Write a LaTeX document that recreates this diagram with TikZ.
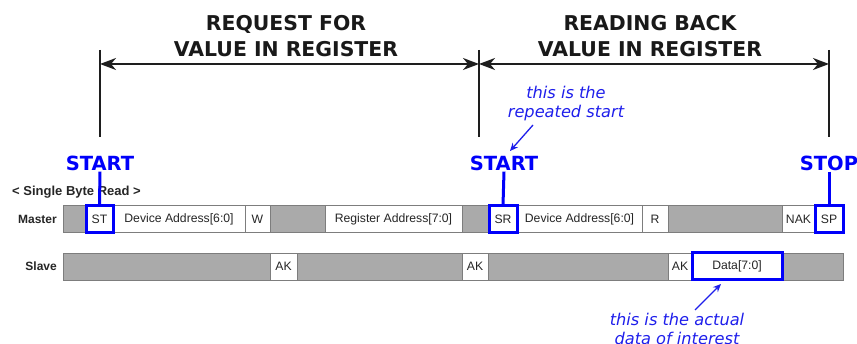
\documentclass[tikz,border=0pt]{standalone}
\usepackage{fontspec}
\setmainfont{DejaVu Sans}
\newfontfamily\arialf{Liberation Sans}
\usetikzlibrary{arrows.meta}
\definecolor{segfill}{RGB}{170,170,170}
\definecolor{segline}{RGB}{125,125,125}
\definecolor{annc}{RGB}{30,30,235}
\definecolor{hl}{RGB}{0,0,250}
\definecolor{dimc}{RGB}{30,30,30}
\begin{document}
\begin{tikzpicture}[x=1pt,y=-1pt,
  seg/.style={draw=segline, line width=0.8pt, minimum height=27pt, inner sep=0pt, outer sep=0pt,
    font=\arialf\fontsize{12.2}{14}\selectfont, anchor=west, text=black!85},
  gseg/.style={seg, fill=segfill},
  wseg/.style={seg, fill=white},
  hlbox/.style={draw=hl, line width=3pt},
  hlline/.style={draw=hl, line width=3pt},
  marker/.style={text=hl, font=\bfseries\fontsize{19.5}{22}\selectfont, inner sep=1pt},
  titletext/.style={align=center, text=black!90, font=\bfseries\fontsize{20.4}{26}\selectfont},
  anntext/.style={align=center, text=annc, font=\itshape\fontsize{16.2}{19}\selectfont, inner sep=1pt},
  annarrow/.style={draw=annc, line width=1.3pt, -{Stealth[length=8pt,width=7pt]}},
  dimline/.style={draw=dimc, line width=1.8pt},
  dimarrow/.style={draw=dimc, line width=1.8pt, {Stealth[length=16pt,width=12pt,inset=5pt]}-{Stealth[length=16pt,width=12pt,inset=5pt]}},
  rowlabel/.style={font=\arialf\bfseries\fontsize{12}{14}\selectfont, anchor=east, inner sep=0pt, text=black!85}
]
\useasboundingbox (0,0) rectangle (857,344);

% titles
\node[titletext] (title1) at (286,36) {REQUEST FOR\\VALUE IN REGISTER};
\node[titletext] (title2) at (650,36) {READING BACK\\VALUE IN REGISTER};

% dimension lines
\coordinate (v1t) at (100,50); \coordinate (v1b) at (100,137);
\coordinate (v2t) at (479,50); \coordinate (v2b) at (479,137);
\coordinate (v3t) at (829,50); \coordinate (v3b) at (829,137);
\draw[dimline] (v1t) -- (v1b);
\draw[dimline] (v2t) -- (v2b);
\draw[dimline] (v3t) -- (v3b);
\coordinate (a1) at (100,64); \coordinate (a2) at (479,64); \coordinate (a3) at (829,64);
\draw[dimarrow] (a1) -- (a2);
\draw[dimarrow] (a2) -- (a3);

% annotation 1
\node[anntext] (ann1) at (566,104) {this is the\\repeated start};

% markers
\node[marker] (st1) at (100,163) {START};
\node[marker] (st2) at (504,163) {START};
\node[marker] (sp1) at (829,163) {STOP};

\node[font=\arialf\bfseries\fontsize{13}{15}\selectfont, anchor=west, inner sep=0pt, text=black!85] (sbr) at (12,192) {< Single Byte Read >};

% master row
\node[rowlabel] (mlab) at (57,219) {Master};
\node[gseg, minimum width=23pt] (m0) at (63,219) {};
\node[wseg, minimum width=27pt] (ST) at (86,219) {ST};
\node[wseg, minimum width=132pt] (mda1) at (113,219) {Device Address[6:0]};
\node[wseg, minimum width=25pt] (mW) at (245,219) {W};
\node[gseg, minimum width=55pt] (m1) at (270,219) {};
\node[wseg, minimum width=137pt] (mra) at (325,219) {Register Address[7:0]};
\node[gseg, minimum width=27pt] (m2) at (462,219) {};
\node[wseg, minimum width=28pt] (SR) at (489,219) {SR};
\node[wseg, minimum width=125pt] (mda2) at (517,219) {Device Address[6:0]};
\node[wseg, minimum width=26pt] (mR) at (642,219) {R};
\node[gseg, minimum width=114pt] (m3) at (668,219) {};
\node[wseg, minimum width=33pt] (NAK) at (782,219) {NAK};
\node[wseg, minimum width=28pt] (SP) at (815,219) {SP};

% slave row
\node[rowlabel] (slab) at (57,266.5) {Slave};
\node[gseg, minimum width=207pt] (s0) at (63,266.5) {};
\node[wseg, minimum width=27pt] (AK1) at (270,266.5) {AK};
\node[gseg, minimum width=165pt] (s1) at (297,266.5) {};
\node[wseg, minimum width=26pt] (AK2) at (462,266.5) {AK};
\node[gseg, minimum width=180pt] (s2) at (488,266.5) {};
\node[wseg, minimum width=24pt] (AK3) at (668,266.5) {AK};
\node[wseg, minimum width=90pt] (Data) at (692,266.5) {Data[7:0]};
\node[gseg, minimum width=61pt] (s3) at (782,266.5) {};

% highlight boxes
\draw[hlbox] (ST.north west) rectangle (ST.south east);
\draw[hlbox] (SR.north west) rectangle (SR.south east);
\draw[hlbox] (SP.north west) rectangle (SP.south east);
\draw[hlbox] (Data.north west) rectangle (Data.south east);

% marker connectors
\draw[hlline] (st1.south) -- (ST.north);
\draw[hlline] (st2.south) -- (SR.north);
\draw[hlline] (sp1.south) -- (SP.north);

% annotation arrows
\coordinate (ann1from) at (533,125);
\coordinate (ann1to) at (510,151);
\draw[annarrow] (ann1from) -- (ann1to);

\node[anntext] (ann2) at (677,329) {this is the actual\\data of interest};
\coordinate (ann2from) at (695,310);
\coordinate (ann2to) at (721,284);
\draw[annarrow] (ann2from) -- (ann2to);
\end{tikzpicture}
\end{document}
